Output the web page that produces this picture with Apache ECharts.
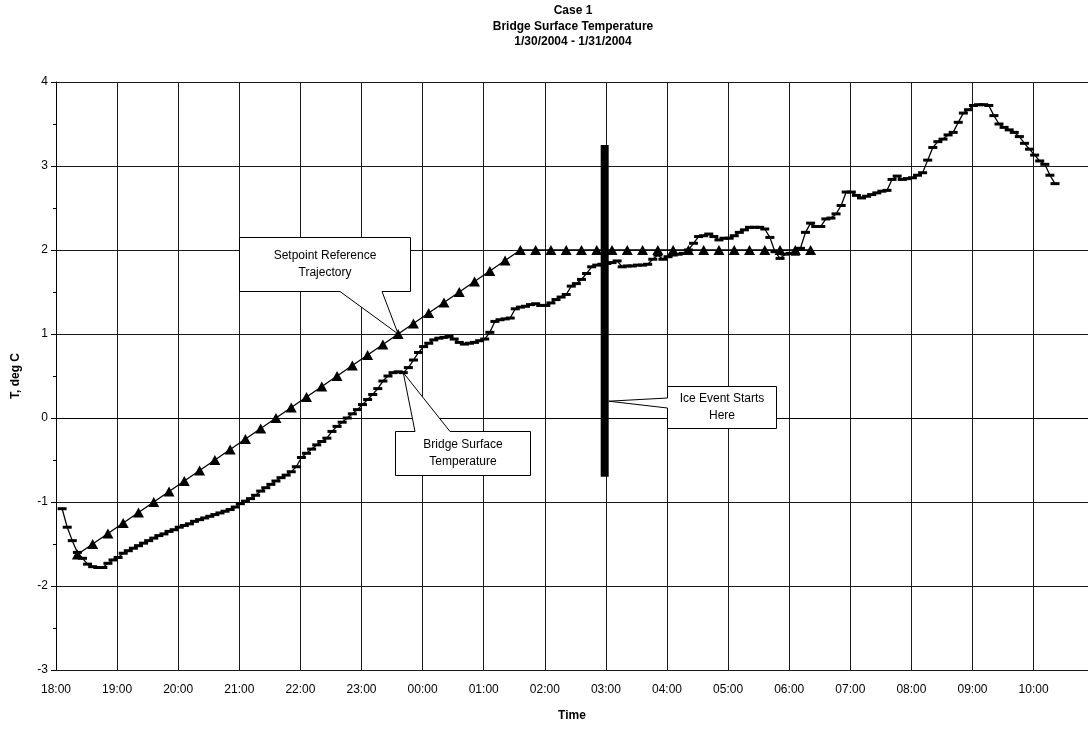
<!DOCTYPE html>
<html>
<head>
<meta charset="utf-8">
<script src="https://cdn.jsdelivr.net/npm/echarts@6/dist/echarts.min.js"></script>
<style>
  html, body { margin: 0; padding: 0; background: #fff; overflow: hidden; }
  #chart { width: 1088px; height: 733px; }
</style>
</head>
<body>
<div id="chart"></div>
<script>
// Time is measured in hours after 18:00 on 1/30/2004.
// Bridge surface temperature, sampled every 5 minutes starting 18:06.
const surfaceStart = 0.1;
const surfaceStep = 5 / 60;
const surfaceTemp = [
  -1.08, -1.30, -1.46, -1.60, -1.67, -1.74, -1.77, -1.78, -1.78, -1.73,
  -1.69, -1.66, -1.61, -1.58, -1.55, -1.52, -1.49, -1.46, -1.43, -1.40,
  -1.38, -1.35, -1.33, -1.30, -1.28, -1.26, -1.23, -1.21, -1.19, -1.17,
  -1.15, -1.13, -1.11, -1.09, -1.06, -1.02, -0.99, -0.96, -0.92, -0.87,
  -0.83, -0.79, -0.75, -0.71, -0.68, -0.64, -0.58, -0.47, -0.42, -0.37,
  -0.32, -0.28, -0.24, -0.16, -0.10, -0.05, 0.00, 0.05, 0.10, 0.16,
  0.22, 0.28, 0.35, 0.44, 0.50, 0.54, 0.55, 0.54, 0.60, 0.69,
  0.78, 0.85, 0.89, 0.93, 0.95, 0.96, 0.97, 0.94, 0.90, 0.88,
  0.89, 0.90, 0.92, 0.94, 1.02, 1.15, 1.17, 1.18, 1.19, 1.30,
  1.32, 1.33, 1.35, 1.36, 1.34, 1.34, 1.37, 1.41, 1.44, 1.47,
  1.57, 1.60, 1.65, 1.72, 1.80, 1.82, 1.83, 1.84, 1.85, 1.87,
  1.80, 1.81, 1.81, 1.82, 1.82, 1.83, 1.89, 1.94, 1.89, 1.92,
  1.94, 1.95, 1.96, 2.00, 2.08, 2.16, 2.17, 2.19, 2.16, 2.12,
  2.14, 2.14, 2.17, 2.21, 2.24, 2.27, 2.27, 2.27, 2.25, 2.15,
  1.98, 1.90, 1.95, 1.96, 1.95, 2.02, 2.21, 2.32, 2.28, 2.28,
  2.37, 2.38, 2.43, 2.53, 2.69, 2.69, 2.65, 2.62, 2.64, 2.66,
  2.68, 2.70, 2.71, 2.84, 2.88, 2.84, 2.85, 2.86, 2.89, 2.92,
  3.07, 3.22, 3.29, 3.32, 3.37, 3.40, 3.52, 3.63, 3.67, 3.72,
  3.73, 3.73, 3.72, 3.60, 3.50, 3.46, 3.43, 3.40, 3.35, 3.27,
  3.20, 3.13, 3.06, 3.02, 2.89, 2.79
];

// Setpoint reference trajectory, every 15 minutes starting 18:21.
const setpointStart = 0.35;
const setpointStep = 0.25;
const setpointTemp = [
  -1.625, -1.5, -1.375, -1.25, -1.125, -1.0, -0.875, -0.75, -0.625, -0.5,
  -0.375, -0.25, -0.125, 0.0, 0.125, 0.25, 0.375, 0.5, 0.625, 0.75,
  0.875, 1.0, 1.125, 1.25, 1.375, 1.5, 1.625, 1.75, 1.875, 2.0,
  2.0, 2.0, 2.0, 2.0, 2.0, 2.0, 2.0, 2.0, 2.0, 2.0,
  2.0, 2.0, 2.0, 2.0, 2.0, 2.0, 2.0, 2.0, 2.0
];

// Ice event marker: time (hours after 18:00) and vertical extent.
const iceEventTime = 8.98;
const iceEventRange = [3.25, -0.7];

const xTicks = ['18:00', '19:00', '20:00', '21:00', '22:00', '23:00', '00:00', '01:00', '02:00',
  '03:00', '04:00', '05:00', '06:00', '07:00', '08:00', '09:00', '10:00'];

const titleLines = ['Case 1', 'Bridge Surface Temperature', '1/30/2004 - 1/31/2004'];

const surfaceData = surfaceTemp.map((v, i) => [surfaceStart + i * surfaceStep, v]);
const setpointData = setpointTemp.map((v, i) => [setpointStart + i * setpointStep, v]);
const iceData = iceEventRange.map(v => [iceEventTime, v]);

const FONT = 'Liberation Sans, Arial, sans-serif';
const chart = echarts.init(document.getElementById('chart'), null, { renderer: 'canvas' });

// The time axis stops short of 17 h at the right edge, with no closing grid line.
chart.setOption({
  animation: false,
  backgroundColor: '#ffffff',
  title: {
    text: titleLines.join('\n'),
    left: 573, top: 3, textAlign: 'center', padding: 0,
    textStyle: { fontFamily: FONT, fontSize: 12, fontWeight: 'bold', color: '#000', lineHeight: 15.5 }
  },
  grid: { left: 56, right: 0, top: 82, bottom: 63 },
  xAxis: {
    type: 'value', min: 0, max: 16.89, interval: 1,
    name: 'Time', nameLocation: 'middle', nameGap: 40,
    nameTextStyle: { fontFamily: FONT, fontSize: 12, fontWeight: 'bold', color: '#000' },
    axisLine: { show: true, lineStyle: { color: '#000', width: 1 } },
    axisTick: { show: false },
    axisLabel: {
      fontFamily: FONT, fontSize: 12, color: '#000', margin: 14,
      showMaxLabel: false,
      formatter: v => xTicks[Math.round(v)] || ''
    },
    splitLine: { show: true, showMaxLine: false, lineStyle: { color: '#1a1a1a', width: 1 } }
  },
  yAxis: {
    type: 'value', min: -3, max: 4, interval: 1,
    name: 'T, deg C', nameLocation: 'middle', nameGap: 34, nameRotate: 90,
    nameTextStyle: { fontFamily: FONT, fontSize: 12, fontWeight: 'bold', color: '#000' },
    axisLine: { show: true, lineStyle: { color: '#000', width: 1 } },
    axisTick: { show: true, inside: false, length: 5, lineStyle: { color: '#000' } },
    minorTick: { show: true, splitNumber: 2, length: 3, lineStyle: { color: '#000' } },
    axisLabel: { fontFamily: FONT, fontSize: 12, color: '#000', margin: 8 },
    splitLine: { show: true, lineStyle: { color: '#1a1a1a', width: 1 } }
  },
  series: [
    {
      name: 'Ice Event', type: 'line', data: iceData,
      showSymbol: false, symbol: 'none',
      lineStyle: { color: '#000', width: 8 }, z: 3
    },
    {
      name: 'Setpoint Reference Trajectory', type: 'line', data: setpointData,
      symbol: 'triangle', symbolSize: [11, 10],
      itemStyle: { color: '#000' },
      lineStyle: { color: '#000', width: 1.3 }, z: 4
    },
    {
      name: 'Bridge Surface Temperature', type: 'line', data: surfaceData,
      symbol: 'rect', symbolSize: [9, 3],
      itemStyle: { color: '#000' },
      lineStyle: { color: '#000', width: 1.3 }, z: 5
    }
  ]
});

// Callout boxes with wedge-shaped pointers to a data point.
function callout(box, wedge, apex, lines) {
  const [x0, y0, x1, y1] = box;
  const side = wedge.side;
  let pts;
  if (side === 'bottom') {
    pts = [[x0, y0], [x1, y0], [x1, y1], [wedge.b, y1], apex, [wedge.a, y1], [x0, y1]];
  } else if (side === 'top') {
    pts = [[x0, y0], [wedge.a, y0], apex, [wedge.b, y0], [x1, y0], [x1, y1], [x0, y1]];
  } else {
    pts = [[x0, y0], [x1, y0], [x1, y1], [x0, y1], [x0, wedge.b], apex, [x0, wedge.a]];
  }
  return [
    { type: 'polygon', z: 100, shape: { points: pts },
      style: { fill: '#fff', stroke: '#000', lineWidth: 1 } },
    { type: 'text', z: 101, x: (x0 + x1) / 2, y: (y0 + y1) / 2,
      style: { text: lines.join('\n'), fontFamily: FONT, fontSize: 12, fill: '#000',
        align: 'center', verticalAlign: 'middle', lineHeight: 17 } }
  ];
}

const spApex = chart.convertToPixel({ gridIndex: 0 }, setpointData[21]);
const bsApex = chart.convertToPixel({ gridIndex: 0 }, surfaceData[67]);
const iceApex = chart.convertToPixel({ gridIndex: 0 }, [iceEventTime, 0.2]);

chart.setOption({
  graphic: [
    ...callout([239.5, 237.5, 410.5, 291.5], { side: 'bottom', a: 340, b: 382 }, spApex,
      ['Setpoint Reference', 'Trajectory']),
    ...callout([395.5, 431.5, 530.5, 475.5], { side: 'top', a: 415, b: 450 }, bsApex,
      ['Bridge Surface', 'Temperature']),
    ...callout([667.5, 386.5, 776.5, 428.5], { side: 'left', a: 398, b: 408 }, [iceApex[0] + 4, iceApex[1]],
      ['Ice Event Starts', 'Here'])
  ]
});
</script>
</body>
</html>
